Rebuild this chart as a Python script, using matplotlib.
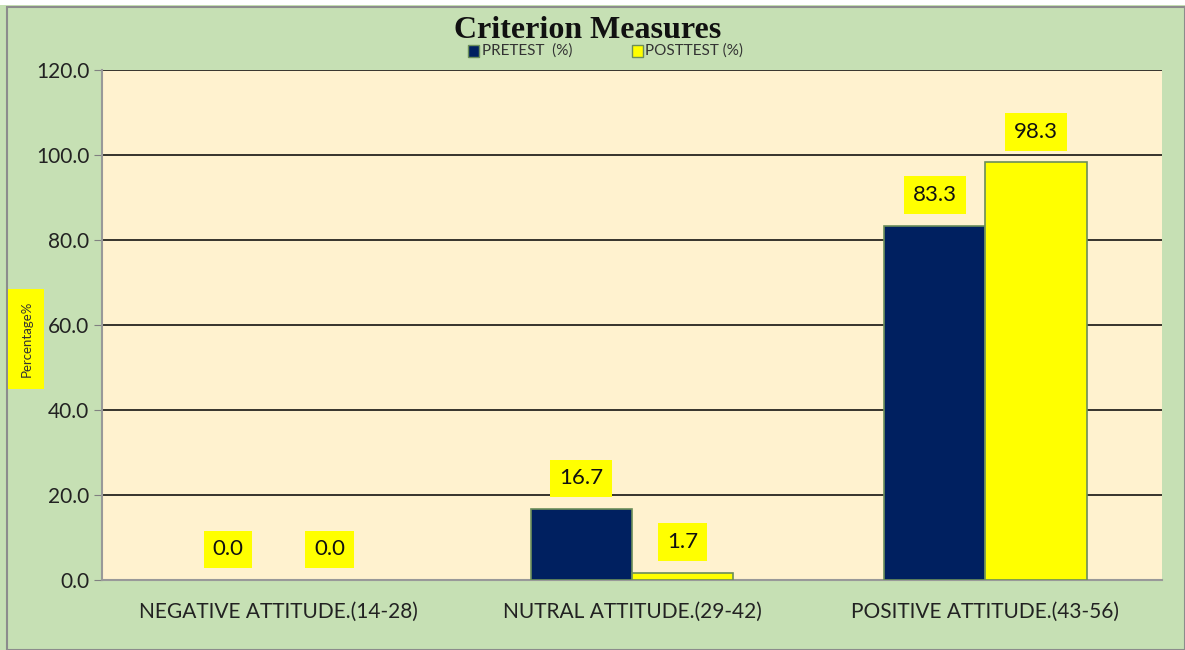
import numpy as np
import matplotlib
matplotlib.use('Agg')
import matplotlib.pyplot as plt
from matplotlib.patches import Rectangle

categories = ['NEGATIVE ATTITUDE.(14-28)', 'NUTRAL ATTITUDE.(29-42)', 'POSITIVE ATTITUDE.(43-56)']
pretest = [0.0, 16.7, 83.3]
posttest = [0.0, 1.7, 98.3]
series_names = ['PRETEST  (%)', 'POSTTEST (%)']
yticks = [0, 20, 40, 60, 80, 100, 120]

navy = '#002060'
yellow = '#FFFF00'
edge = '#6B8E5A'

fig = plt.figure(figsize=(11.85, 6.5), dpi=100, facecolor='#C6E0B4')
# white strip at top and grey border like the spreadsheet frame
fig.patches.append(Rectangle((0, 0.992), 1, 0.008, transform=fig.transFigure,
                             facecolor='white', edgecolor='none', zorder=0))
fig.patches.append(Rectangle((0.006, 0.0), 0.994, 0.99, transform=fig.transFigure,
                             facecolor='none', edgecolor='#8C8C8C', lw=1.5, zorder=1))

ax = fig.add_axes([0.0861, 0.1077, 0.8945, 0.7846])
ax.set_facecolor('#FFF2CF')

x = np.arange(len(categories))
w = 0.287
b1 = ax.bar(x - w / 2, pretest, w, color=navy, edgecolor=edge,
            lw=[1.2 if v > 0 else 0 for v in pretest], zorder=3)
b2 = ax.bar(x + w / 2, posttest, w, color=yellow, edgecolor=edge,
            lw=[1.2 if v > 0 else 0 for v in posttest], zorder=3)

for bars, vals in ((b1, pretest), (b2, posttest)):
    for r, v in zip(bars, vals):
        ax.text(r.get_x() + r.get_width() / 2, v + 7.2, f'{v:.1f}',
                ha='center', va='center', fontsize=16, family='Lato', color='#111111',
                bbox=dict(boxstyle='square,pad=0.4', facecolor=yellow, edgecolor='none'),
                zorder=4)

ax.set_xlim(-0.5, 2.5)
ax.set_ylim(0, 120)
ax.set_yticks(yticks)
ax.set_yticklabels([f'{t:.1f}' for t in yticks], fontsize=15, family='Lato', color='#222222')
ax.set_xticks(x)
ax.set_xticklabels(categories, fontsize=15, family='Lato', color='#222222')
ax.tick_params(axis='x', length=0, pad=16)
ax.tick_params(axis='y', length=6, color='#808080', pad=3)
ax.grid(axis='y', color='black', lw=1.1, zorder=1)
for s in ['top', 'right']:
    ax.spines[s].set_visible(False)
for s in ['left', 'bottom']:
    ax.spines[s].set_color('#999999')
    ax.spines[s].set_linewidth(1.5)

fig.text(0.496, 0.953, 'Criterion Measures', ha='center', va='center',
         fontsize=23, fontweight='bold', family='Liberation Serif', color='#111111')

# legend drawn as small squares + text
for xs, name, col in ((0.395, series_names[0], navy), (0.533, series_names[1], yellow)):
    fig.patches.append(Rectangle((xs, 0.913), 0.0095, 0.018, transform=fig.transFigure,
                                 facecolor=col, edgecolor=edge, lw=1))
    fig.text(xs + 0.0115, 0.922, name, ha='left', va='center', fontsize=11,
             family='Lato', color='#333333')

fig.text(0.0222, 0.478, 'Percentage%', rotation=90, ha='center', va='center',
         fontsize=9.5, family='Lato', color='#333333',
         bbox=dict(boxstyle='square,pad=0.9', facecolor=yellow, edgecolor='none'))

fig.savefig('out.png', dpi=100, facecolor=fig.get_facecolor())
